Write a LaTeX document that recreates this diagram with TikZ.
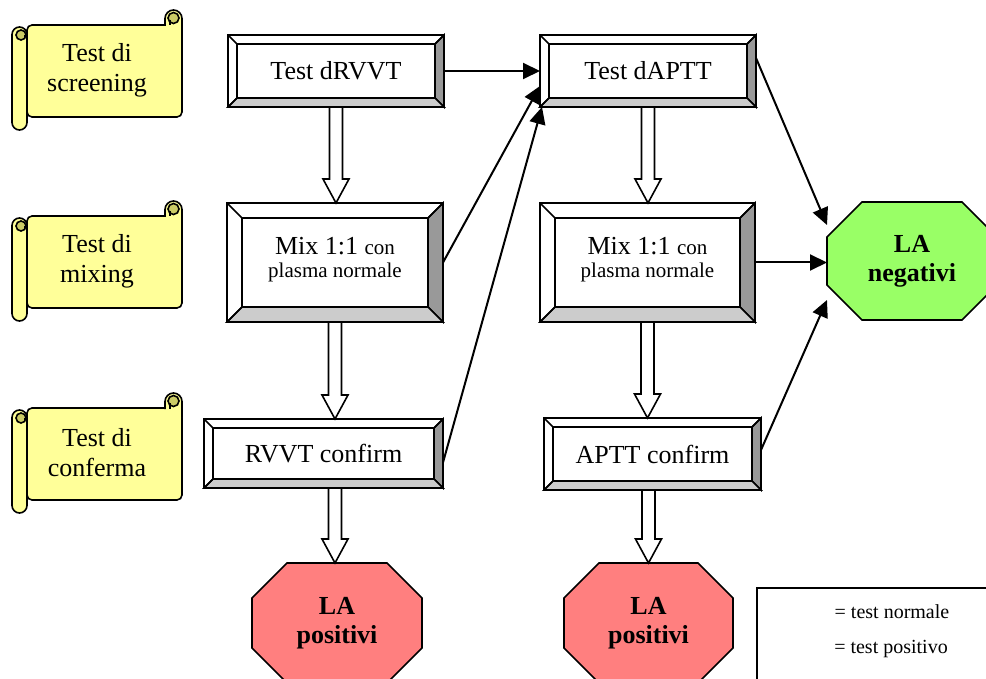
\documentclass[tikz,border=0pt]{standalone}
\usepackage{fontspec}
\setmainfont{Liberation Serif}
\usetikzlibrary{arrows.meta,calc,backgrounds}
\definecolor{scrollY}{HTML}{FFFF99}
\definecolor{curlY}{HTML}{CCCC66}
\definecolor{bevR}{HTML}{999999}
\definecolor{bevB}{HTML}{CCCCCC}
\definecolor{posRed}{HTML}{FF7F7F}
\definecolor{negGreen}{HTML}{99FF66}
\newcommand{\bigf}{\fontsize{26}{30}\selectfont}
\newcommand{\smf}{\fontsize{21}{25}\selectfont}
\newcommand{\legf}{\fontsize{20}{24}\selectfont}
\tikzset{
  bevline/.style={line width=1.6pt, line join=miter},
  bevnode/.style={draw, fill=white, line width=1.6pt, inner sep=0pt, outer sep=0pt, align=center, font=\bigf},
  octnode/.style={inner sep=0pt, outer sep=0pt, align=center, font=\bigf\bfseries},
  scrl/.style={line width=1.6pt, fill=scrollY},
  scrtext/.style={align=center, font=\bigf, inner sep=0pt},
  conn/.style={line width=2pt, -{Triangle[length=17pt,width=16pt]}},
  hollow/.style={draw, fill=white, line width=1.6pt, line join=miter,
    to path={let \p1=(\tikztostart), \p2=(\tikztotarget) in
      (\x1-6.5pt,\y1) -- (\x1-6.5pt,\y2+24pt) -- (\x1-13pt,\y2+24pt) -- (\x1,\y2)
      -- (\x1+13pt,\y2+24pt) -- (\x1+6.5pt,\y2+24pt) -- (\x1+6.5pt,\y1) -- cycle}},
  legtext/.style={font=\legf, inner sep=0pt}
}
% bevelled box: name, cx, cy, w, h, bevel, text
\newcommand{\bevbox}[7]{%
  \node[bevnode, minimum width=#4pt, minimum height=#5pt] (#1) at (#2,#3) {#7};
  \filldraw[bevline, fill=bevR] (#1.north east) -- (#1.south east)
    -- ([xshift=-#6pt,yshift=#6pt]#1.south east) -- ([xshift=-#6pt,yshift=-#6pt]#1.north east) -- cycle;
  \filldraw[bevline, fill=bevB] (#1.south west) -- (#1.south east)
    -- ([xshift=-#6pt,yshift=#6pt]#1.south east) -- ([xshift=#6pt,yshift=#6pt]#1.south west) -- cycle;
  \draw[bevline] ([xshift=#6pt,yshift=-#6pt]#1.north west) rectangle ([xshift=-#6pt,yshift=#6pt]#1.south east);
  \draw[bevline] (#1.north west) -- ([xshift=#6pt,yshift=-#6pt]#1.north west);
  \draw[bevline] (#1.south west) -- ([xshift=#6pt,yshift=#6pt]#1.south west);
  \draw[bevline] (#1.north east) -- ([xshift=-#6pt,yshift=-#6pt]#1.north east);
  \draw[bevline] (#1.north west) rectangle (#1.south east);
}
% octagon: name, cx, cy, w, h, colour, text
\newcommand{\octo}[7]{%
  \node[octnode, minimum width=#4pt, minimum height=#5pt] (#1) at (#2,#3) {#7};
  \begin{scope}[on background layer]
  \filldraw[fill=#6, line width=1.6pt, line join=miter]
    ([xshift=35pt]#1.north west) -- ([xshift=-35pt]#1.north east)
    -- ([yshift=-35pt]#1.north east) -- ([yshift=35pt]#1.south east)
    -- ([xshift=-35pt]#1.south east) -- ([xshift=35pt]#1.south west)
    -- ([yshift=35pt]#1.south west) -- ([yshift=-35pt]#1.north west) -- cycle;
  \end{scope}
}
% scroll: name, y offset, text
\newcommand{\scrollbox}[3]{%
  \begin{scope}[shift={(0,#2)}]
  \filldraw[scrl, rounded corners=5pt] (27,25) rectangle (182,117);
  \filldraw[scrl, rounded corners=8.5pt] (165,26) -- (165,10) -- (182,10) -- (182,34);
  \fill[scrollY] (166.5,26) rectangle (181,36);
  \fill[curlY] (173.5,18) circle (5.5);
  \draw[line width=1.6pt] (173.5,18) circle (5.5);
  \draw[line width=1.6pt] (170,20) -- (170,25.5);
  \filldraw[scrl, rounded corners=7.5pt] (12,27) rectangle (27,130);
  \fill[curlY] (21,35) circle (5);
  \draw[line width=1.6pt] (21,35) circle (5);
  \draw[line width=1.6pt] (24,36) -- (26,36);
  \node[scrtext] (#1) at (97,70) {#3};
  \end{scope}
}
\begin{document}
\begin{tikzpicture}[x=1pt,y=-1pt]
\useasboundingbox (0,0) rectangle (986,679);

% scrolls
\scrollbox{scrA}{0}{Test di\\screening}
\scrollbox{scrB}{191}{Test di\\mixing}
\scrollbox{scrC}{383}{Test di\\conferma}

% bevelled boxes
\bevbox{dRVVT}{336}{71}{216}{72}{9}{Test dRVVT}
\bevbox{dAPTT}{648}{71}{216}{72}{9}{Test dAPTT}
\bevbox{mixL}{335}{262.5}{216}{119}{15}{Mix 1:1 {\smf con}\\[-7pt]{\smf plasma normale}\\[-20pt]\mbox{}}
\bevbox{mixR}{647.5}{262.5}{215}{119}{15}{Mix 1:1 {\smf con}\\[-7pt]{\smf plasma normale}\\[-20pt]\mbox{}}
\bevbox{rvvtC}{323.5}{453.5}{239}{69}{9}{RVVT confirm}
\bevbox{apttC}{652.5}{454}{217}{72}{9}{APTT confirm}

% octagons
\octo{posL}{337}{623}{170}{120}{posRed}{LA\\[-1pt]positivi}
\octo{posR}{648.5}{623}{169}{120}{posRed}{LA\\[-1pt]positivi}
\octo{neg}{912}{261}{170}{118}{negGreen}{LA\\[-1pt]negativi}

% hollow block arrows
\draw[hollow] (dRVVT.south) to (mixL.north);
\draw[hollow] (mixL.south) to (rvvtC.north -| mixL.south);
\draw[hollow] (rvvtC.south -| mixL.south) to (posL.north);
\draw[hollow] (dAPTT.south) to (mixR.north);
\draw[hollow] (mixR.south) to (apttC.north -| mixR.south);
\draw[hollow] (apttC.south -| posR.north) to (posR.north);

% connectors
\draw[conn] (dRVVT.east) -- (dAPTT.west);
\draw[conn] (mixL.east) -- ([yshift=21pt]dAPTT.south west);
\draw[conn] ([yshift=-9pt]rvvtC.east) -- ([xshift=2pt]dAPTT.south west);
\draw[conn] ([yshift=13pt]dAPTT.east) -- ([yshift=36pt]neg.west);
\draw[conn] (mixR.east) -- (mixR.east -| neg.west);
\draw[conn] ([yshift=4pt]apttC.east) -- ([yshift=-39pt]neg.west);

% legend
\node[draw, line width=1.6pt, minimum width=250pt, minimum height=110pt, anchor=north west, inner sep=0pt] (legend) at (756,587) {};
\node[legtext] (legN) at (892,612) {= test normale};
\node[legtext] (legP) at (891,649) {= test positivo};
\end{tikzpicture}
\end{document}
